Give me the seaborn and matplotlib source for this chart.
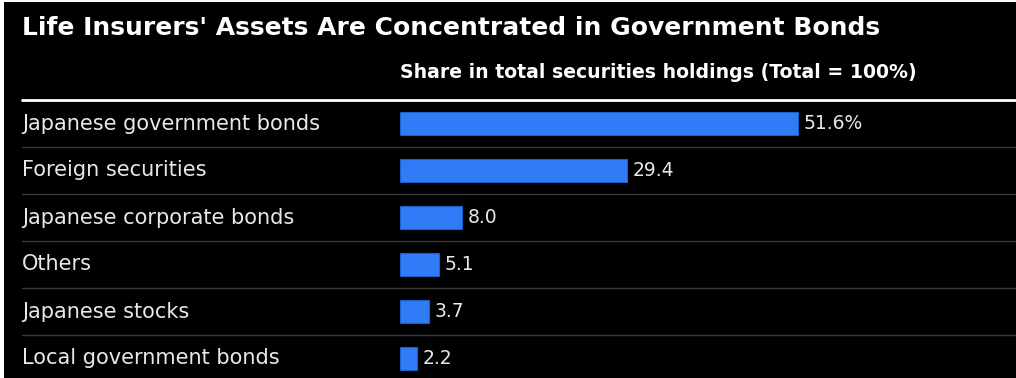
import matplotlib
matplotlib.use("Agg")
import matplotlib.pyplot as plt
import seaborn as sns
import pandas as pd
from matplotlib.patches import Rectangle

categories = ["Japanese government bonds", "Foreign securities", "Japanese corporate bonds",
              "Others", "Japanese stocks", "Local government bonds"]
values = [51.6, 29.4, 8.0, 5.1, 3.7, 2.2]
value_labels = ["51.6%", "29.4", "8.0", "5.1", "3.7", "2.2"]

title = "Life Insurers' Assets Are Concentrated in Government Bonds"
subtitle = "Share in total securities holdings (Total = 100%)"

sns.set_theme(style="white")
plt.rcParams['font.family'] = ['DejaVu Sans']

W, H = 1016, 378
fig = plt.figure(figsize=(W / 100, H / 100), dpi=100, facecolor="black")
# thin white strips at left/top edges like reference
fig.patches.append(Rectangle((0, 0), 4 / W, 1, transform=fig.transFigure,
                             facecolor="white", edgecolor="none", zorder=0))
fig.patches.append(Rectangle((0, 1 - 2 / H), 1, 2 / H, transform=fig.transFigure,
                             facecolor="white", edgecolor="none", zorder=0))

ax_left, ax_top = 22, 100
row_h = 47
ax = fig.add_axes([ax_left / W, (H - ax_top - 6 * row_h) / H, (W - ax_left) / W, 6 * row_h / H])
ax.set_facecolor("none")

df = pd.DataFrame({"category": categories, "value": values})
sns.barplot(data=df, x="value", y="category", orient="h", color="#2F7CF6",
            width=0.47, edgecolor="#1d5ec9", linewidth=0.8, saturation=1, ax=ax)

px_per_unit = (798 - 400) / 51.6
x0 = -(400 - ax_left) / px_per_unit
x1 = x0 + (W - ax_left) / px_per_unit
ax.set_xlim(x0, x1)
ax.set_ylim(5.5, -0.5)

for s in ax.spines.values():
    s.set_visible(False)
ax.set_xticks([])
ax.set_yticks([])
ax.set_xlabel("")
ax.set_ylabel("")

# separators
ax.axhline(-0.5, color="white", lw=2, clip_on=False)
for i in range(5):
    ax.axhline(i + 0.5, color="#3a3a3a", lw=1)

for i, (cat, v, lab) in enumerate(zip(categories, values, value_labels)):
    ax.text(x0, i, cat, ha="left", va="center", color="#e8e8e8", fontsize=15)
    ax.annotate(lab, xy=(v, i), xytext=(4, 0), textcoords="offset points",
                ha="left", va="center", color="#e8e8e8", fontsize=13.5)

fig.text(22 / W, 1 - 35 / H, title, ha="left", va="baseline", color="white",
         fontsize=18.0, fontweight="bold")
fig.text(400 / W, 1 - 78 / H, subtitle, ha="left", va="baseline", color="white",
         fontsize=13.6, fontweight="bold")

fig.savefig("out.png", dpi=100, facecolor=fig.get_facecolor())
